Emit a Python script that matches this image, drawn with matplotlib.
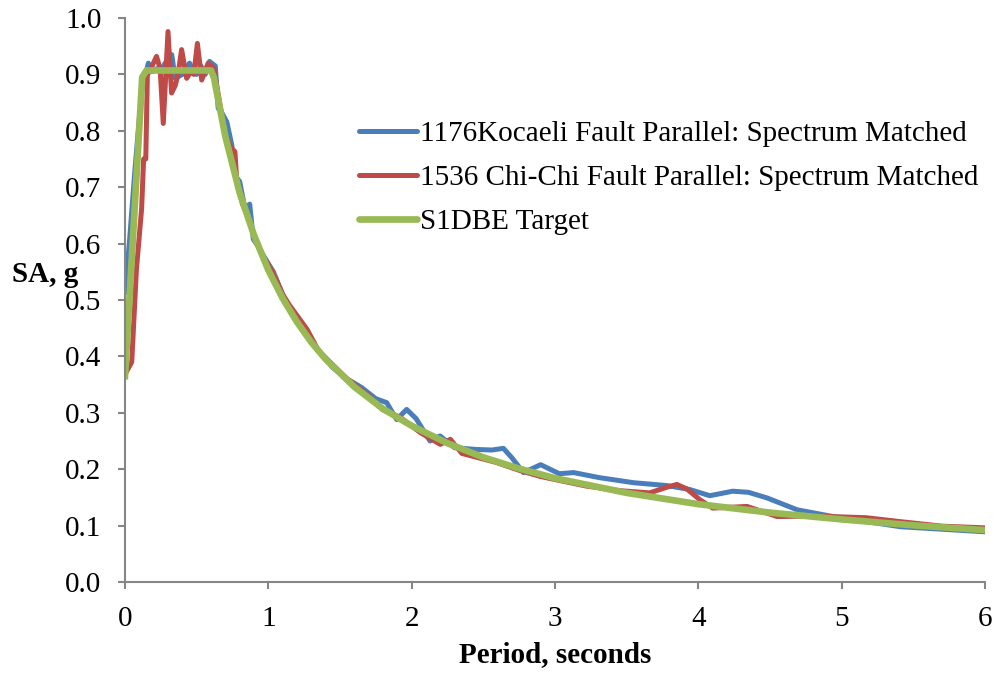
import matplotlib
matplotlib.use("Agg")
import matplotlib.pyplot as plt

# Kocaeli spectrum matched (period s, SA g)
kocaeli_T = [0.0, 0.03, 0.07, 0.116, 0.163, 0.19, 0.22, 0.25, 0.28, 0.326, 0.35, 0.4,
             0.45, 0.48, 0.5, 0.53, 0.56, 0.59, 0.63, 0.65, 0.68, 0.71, 0.745, 0.767,
             0.8, 0.837, 0.87, 0.895, 0.93, 0.965, 1.035, 1.1, 1.15, 1.25, 1.35, 1.45,
             1.55, 1.65, 1.75, 1.826, 1.895, 1.965, 2.03, 2.128, 2.198, 2.3, 2.45, 2.56,
             2.64, 2.7, 2.78, 2.9, 3.03, 3.13, 3.31, 3.55, 3.78, 3.94, 4.08, 4.24, 4.35,
             4.48, 4.69, 4.94, 5.41, 6.0]
kocaeli_SA = [0.514, 0.6, 0.733, 0.87, 0.92, 0.905, 0.91, 0.905, 0.92, 0.935, 0.893, 0.9,
              0.92, 0.905, 0.9, 0.915, 0.9, 0.923, 0.915, 0.84, 0.83, 0.816, 0.775, 0.721,
              0.71, 0.662, 0.67, 0.608, 0.595, 0.579, 0.55, 0.51, 0.484, 0.45, 0.41, 0.38,
              0.36, 0.345, 0.325, 0.318, 0.288, 0.306, 0.29, 0.25, 0.259, 0.238, 0.235, 0.234,
              0.237, 0.22, 0.194, 0.208, 0.192, 0.194, 0.185, 0.176, 0.171, 0.164, 0.153, 0.161, 0.159,
              0.149, 0.128, 0.116, 0.098, 0.089]

# Chi-Chi spectrum matched
chichi_T = [0.0, 0.047, 0.08, 0.116, 0.13, 0.145, 0.156, 0.18, 0.22, 0.245, 0.267, 0.3,
            0.325, 0.35, 0.37, 0.395, 0.43, 0.46, 0.48, 0.505, 0.535, 0.58, 0.62, 0.663,
            0.7, 0.74, 0.767, 0.78, 0.82, 0.87, 0.92, 0.97, 1.03, 1.1, 1.15, 1.27, 1.35,
            1.45, 1.55, 1.7, 1.8, 1.92, 2.06, 2.2, 2.27, 2.35, 2.59, 2.75, 2.9, 3.22, 3.45,
            3.66, 3.78, 3.85, 3.92, 4.01, 4.1, 4.34, 4.55, 4.8, 5.17, 5.41, 5.7, 6.0]
chichi_SA = [0.368, 0.39, 0.555, 0.662, 0.75, 0.75, 0.899, 0.91, 0.932, 0.91, 0.813, 0.976,
             0.867, 0.88, 0.9, 0.944, 0.893, 0.905, 0.9, 0.955, 0.89, 0.92, 0.91, 0.846,
             0.792, 0.77, 0.763, 0.71, 0.67, 0.64, 0.6, 0.575, 0.55, 0.51, 0.49, 0.448, 0.41,
             0.385, 0.36, 0.33, 0.305, 0.292, 0.265, 0.244, 0.253, 0.228, 0.212, 0.198, 0.187, 0.17, 0.162,
             0.158, 0.168, 0.173, 0.165, 0.146, 0.131, 0.134, 0.116, 0.117, 0.114, 0.107, 0.099, 0.096]

# S1DBE target spectrum
target_T = [0.0, 0.12, 0.15, 0.6, 0.62, 0.7, 0.8, 0.9, 1.0, 1.1, 1.2, 1.3, 1.4, 1.6, 1.8,
            2.0, 2.25, 2.5, 2.75, 3.0, 3.5, 4.0, 4.5, 5.0, 5.5, 6.0]
target_SA = [0.365, 0.895, 0.907, 0.907, 0.895, 0.79, 0.69, 0.615, 0.553, 0.503, 0.461,
             0.425, 0.395, 0.346, 0.307, 0.277, 0.246, 0.221, 0.201, 0.184, 0.158, 0.138,
             0.123, 0.111, 0.1005, 0.092]

labels = ["1176Kocaeli Fault Parallel: Spectrum Matched",
          "1536 Chi-Chi Fault Parallel: Spectrum Matched",
          "S1DBE Target"]

plt.rcParams['font.family'] = ['Liberation Serif', 'DejaVu Serif']
plt.rcParams['font.size'] = 21

fig = plt.figure(figsize=(9.98, 6.77), dpi=100)
ax = fig.add_axes([125 / 998, 1 - 582 / 677, 860 / 998, 564 / 677])

ax.plot(kocaeli_T, kocaeli_SA, color='#4A7EBB', lw=3.6, label=labels[0], solid_joinstyle='round')
ax.plot(chichi_T, chichi_SA, color='#BE4B48', lw=3.6, label=labels[1], solid_joinstyle='round')
ax.plot(target_T, target_SA, color='#98B954', lw=4.8, label=labels[2], solid_joinstyle='round')

ax.set_xlim(0, 6)
ax.set_ylim(0, 1.0)
ax.set_xticks(range(0, 7))
ax.set_yticks([i / 10 for i in range(11)])
ax.set_yticklabels(["%.1f" % (i / 10) for i in range(11)])

for s in ['top', 'right']:
    ax.spines[s].set_visible(False)
for s in ['left', 'bottom']:
    ax.spines[s].set_color('#868686')
    ax.spines[s].set_linewidth(1.5)
ax.tick_params(direction='out', length=5, width=1.5, color='#868686', labelsize=21, pad=12)

ax.set_xlabel("Period, seconds", fontweight='bold', fontsize=21, va='baseline')
ax.xaxis.set_label_coords(0.5, -0.142)
ax.set_ylabel("SA, g", fontweight='bold', fontsize=21, rotation=0, va='baseline', ha='center')
ax.yaxis.set_label_coords(-0.093, 0.532)

leg = ax.legend(loc='upper left', bbox_to_anchor=(344 / 998, 1 - 106 / 677),
                bbox_transform=fig.transFigure, frameon=False, borderpad=0,
                handlelength=2.0, handletextpad=0.1, labelspacing=0.6, fontsize=21)
for h in leg.get_lines():
    h.set_solid_capstyle('round')

fig.savefig("out.png", dpi=100)
